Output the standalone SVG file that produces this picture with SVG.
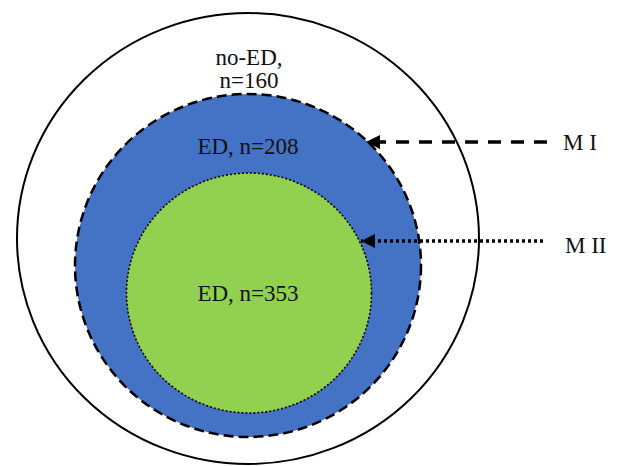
<svg xmlns="http://www.w3.org/2000/svg" width="617" height="466" viewBox="0 0 617 466">
  <defs>
    <marker id="tip" viewBox="0 0 10 10" refX="10" refY="5" markerWidth="4" markerHeight="4" orient="auto" markerUnits="strokeWidth">
      <path d="M0,0 L10,5 L0,10 Z" fill="#000"/>
    </marker>
    <style>
      .lbl { font-family: "Liberation Serif", "Times New Roman", serif; font-size: 23px; fill: #111; }
      .mid { text-anchor: middle; }
      .arrow { fill: none; stroke: #000; stroke-width: 3.5; }
    </style>
  </defs>
  <rect width="617" height="466" fill="#fff"/>

  <g id="no-ed">
    <ellipse cx="248" cy="238.5" rx="231" ry="225.5" fill="#fff" stroke="#000" stroke-width="2"/>
    <text class="lbl mid" x="249" y="65">no-ED,</text>
    <text class="lbl mid" x="249" y="88">n=160</text>
  </g>

  <g id="ed-208">
    <ellipse cx="248" cy="265.5" rx="173" ry="171.5" fill="#4472C4" stroke="#000" stroke-width="2.5" stroke-dasharray="10 5"/>
    <text class="lbl mid" x="248" y="154">ED, n=208</text>
  </g>

  <g id="ed-353">
    <ellipse cx="249" cy="293" rx="122.5" ry="120" fill="#92D050" stroke="#000" stroke-width="1.6" stroke-dasharray="2 2"/>
    <text class="lbl mid" x="248" y="301">ED, n=353</text>
  </g>

  <g id="connectors">
    <line class="arrow" x1="547" y1="142" x2="366" y2="142" stroke-dasharray="13 10" marker-end="url(#tip)"/>
    <line class="arrow" x1="543" y1="241" x2="361" y2="241" stroke-dasharray="3 3" marker-end="url(#tip)"/>
  </g>

  <g id="m1">
    <text class="lbl" x="563" y="150">M I</text>
  </g>
  <g id="m2">
    <text class="lbl" x="565" y="253">M II</text>
  </g>
</svg>
